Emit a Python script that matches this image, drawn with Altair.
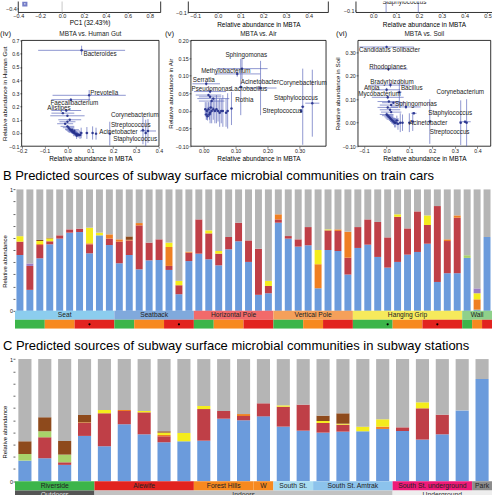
import altair as alt
import pandas as pd

FONT = "Liberation Sans"

# ---------------- Panel B: predicted sources on train cars (48 samples) ----------------
B_SKIN = [0.460, 0.173, 0.433, 0.548, 0.595, 0.644, 0.649, 0.474, 0.622, 0.542,
          0.392, 0.460, 0.342, 0.416, 0.419, 0.337, 0.137, 0.410,
          0.471, 0.425, 0.375, 0.507, 0.573, 0.403, 0.132, 0.145,
          0.726, 0.595, 0.529, 0.540, 0.186, 0.501, 0.493, 0.299,
          0.518, 0.545, 0.444, 0.356, 0.403, 0.463, 0.485, 0.553, 0.238, 0.310, 0.310,
          0.436, 0.010, 0.608]
B_ORAL = [0.110, 0.197, 0.109, 0.025, 0.027, 0.027, 0.028, 0.074, 0.000, 0.053,
          0.178, 0.120, 0.362, 0.146, 0.170, 0.033, 0.074, 0.069,
          0.282, 0.213, 0.096, 0.101, 0.153, 0.177, 0.380, 0.060,
          0.027, 0.021, 0.060, 0.150, 0.000, 0.162, 0.165, 0.139,
          0.172, 0.208, 0.288, 0.249, 0.372, 0.216, 0.334, 0.154, 0.625, 0.265, 0.457,
          0.000, 0.000, 0.000]
B_GUT = [0, 0, 0.008, 0, 0, 0, 0, 0.008, 0, 0.035,
         0.019, 0.005, 0.019, 0, 0, 0.156, 0, 0.009,
         0, 0, 0, 0, 0, 0, 0, 0,
         0.042, 0, 0, 0, 0.198, 0, 0.013, 0.214,
         0, 0, 0, 0, 0, 0, 0, 0, 0, 0.014, 0.019,
         0, 0.085, 0]
B_AIR = [0.045, 0, 0.025, 0.024, 0, 0, 0, 0.129, 0.022, 0,
         0, 0, 0, 0, 0, 0.036, 0.036, 0,
         0, 0.025, 0.022, 0, 0, 0, 0, 0.042,
         0, 0, 0, 0, 0.117, 0.008, 0, 0,
         0, 0, 0, 0, 0.020, 0, 0, 0.079, 0, 0, 0,
         0, 0.050, 0]
B_PLANT = [0, 0, 0, 0, 0, 0, 0, 0, 0, 0,
           0, 0, 0, 0, 0, 0, 0, 0,
           0, 0, 0, 0, 0, 0, 0, 0,
           0, 0, 0, 0, 0, 0, 0, 0,
           0, 0, 0, 0, 0, 0, 0, 0, 0, 0, 0,
           0.022, 0, 0]
B_SOIL = [0, 0, 0.009, 0.006, 0, 0, 0, 0, 0, 0,
          0, 0.028, 0, 0, 0, 0, 0, 0,
          0, 0, 0, 0, 0, 0, 0, 0,
          0, 0, 0, 0, 0, 0, 0, 0,
          0, 0, 0, 0, 0, 0, 0, 0, 0, 0, 0,
          0, 0, 0]
B_VAG = [0, 0.020, 0, 0, 0, 0, 0, 0, 0, 0,
         0, 0, 0, 0, 0, 0, 0, 0,
         0, 0, 0, 0, 0, 0, 0, 0,
         0, 0, 0, 0, 0, 0, 0, 0,
         0, 0, 0, 0, 0, 0, 0, 0, 0, 0, 0,
         0, 0.040, 0]

B_SURF = ["Seat", "Seatback", "Horizontal Pole", "Vertical Pole", "Hanging Grip", "Wall"]
B_SURF_START = [0, 10, 18, 26, 34, 45]
B_SURF_END = [9, 17, 25, 33, 44, 47]
B_LINE = ["Green", "Orange", "Red", "Green", "Orange", "Red", "Green", "Orange", "Red",
          "Green", "Orange", "Red", "Green", "Orange", "Red", "Green", "Orange", "Red"]
B_LINE_START = [0, 3, 6, 10, 12, 15, 18, 20, 23, 26, 29, 31, 34, 38, 41, 45, 46, 47]
B_LINE_END = [2, 5, 9, 11, 14, 17, 19, 22, 25, 28, 30, 33, 37, 40, 44, 45, 46, 47]
B_MARKED = [7, 16, 37, 42]

# ---------------- Panel C: predicted sources in stations (24 samples) ----------------
C_SKIN = [0.169, 0.188, 0.134, 0.371, 0.286, 0.466, 0.384, 0.319, 0.327, 0.332, 0.512, 0.499,
          0.531, 0.447, 0.414, 0.398, 0.406, 0.409, 0.428, 0.411, 0.341, 0.384, 0.580, 0.837]
C_ORAL = [0, 0.172, 0.021, 0.106, 0.270, 0.109, 0.180, 0.049, 0, 0.259, 0.063, 0.035,
          0.107, 0.163, 0.213, 0.079, 0.057, 0, 0, 0.030, 0.256, 0.161, 0, 0]
C_GUT = [0, 0, 0, 0.005, 0, 0.008, 0, 0.011, 0, 0, 0, 0.016,
         0, 0, 0, 0, 0, 0, 0.019, 0, 0, 0, 0, 0]
C_AIR = [0, 0, 0, 0, 0.027, 0, 0.011, 0.019, 0.068, 0.025, 0, 0,
         0, 0.011, 0, 0.016, 0.008, 0.038, 0.060, 0, 0.049, 0, 0, 0]
C_PLANT = [0.054, 0.050, 0.063, 0, 0, 0, 0, 0, 0, 0, 0, 0,
           0, 0, 0, 0, 0, 0, 0, 0, 0, 0, 0, 0]
C_SOIL = [0.104, 0.113, 0.112, 0.060, 0, 0, 0, 0.011, 0, 0, 0, 0,
          0, 0, 0, 0.044, 0.085, 0, 0, 0, 0, 0, 0, 0]
C_VAG = [0, 0, 0, 0, 0, 0, 0, 0, 0, 0, 0, 0,
         0, 0, 0, 0, 0, 0, 0, 0, 0, 0, 0, 0]

C_STATION = ["Riverside", "Alewife", "Forest Hills", "W", "South St.", "South St. Amtrak",
             "South St. underground", "Park"]
C_STATION_START = [0, 4, 9, 12, 13, 15, 19, 23]
C_STATION_END = [3, 8, 11, 12, 14, 18, 22, 23]
C_ENV = ["Outdoors", "Indoors", "Underground"]
C_ENV_START = [0, 4, 19]
C_ENV_END = [3, 18, 23]
C_MARKED = [7, 8, 23]

# ---------------- Scatter panels (genus relative abundance) ----------------
GUT_NAMES = ["Bacteroides", "Prevotella", "Faecalibacterium", "Alistipes", "Corynebacterium",
             "Streptococcus", "Acinetobacter", "Staphylococcus"]
GUT_X = [0.062, 0.095, 0.015, -0.005, 0.330, 0.185, 0.352, 0.342]
GUT_Y = [0.625, 0.285, 0.252, 0.170, 0.020, -0.005, 0.015, 0.000]
GUT_XERR = [0.190, 0.160, 0.085, 0.065, 0.008, 0.004, 0.035, 0.005]
GUT_YERR = [0.035, 0.040, 0.010, 0.010, 0.105, 0.090, 0.090, 0.100]
GUT_LX = [0.070, 0.100, -0.074, -0.088, 0.190, 0.190, 0.139, 0.200]
GUT_LY = [0.598, 0.305, 0.226, 0.188, 0.135, 0.060, 0.010, -0.044]
GUT_CX = [-0.02, 0.0, 0.01, 0.0, -0.01, 0.0, 0.005, 0.01, 0.015, 0.02, 0.025, 0.03,
          0.035, 0.04, 0.045, 0.05, 0.02, 0.03, 0.06, 0.085, 0.11, 0.125, 0.04, 0.055]
GUT_CY = [0.15, 0.13, 0.10, 0.085, 0.07, 0.05, 0.04, 0.03, 0.02, 0.012, 0.005, 0.0,
          -0.005, -0.01, -0.012, -0.015, 0.025, 0.015, 0.0, 0.0, 0.0, -0.005, -0.02, -0.015]
GUT_CXE = [0.05, 0.075, 0.05, 0.035, 0.035, 0.03, 0.025, 0.02, 0.02, 0.02, 0.02, 0.015,
           0.015, 0.015, 0.01, 0.01, 0.03, 0.025, 0.008, 0.006, 0.005, 0.005, 0.015, 0.01]
GUT_CYE = [0.005, 0.005, 0.005, 0.005, 0.005, 0.008, 0.008, 0.01, 0.01, 0.01, 0.012, 0.015,
           0.015, 0.02, 0.02, 0.02, 0.01, 0.01, 0.04, 0.045, 0.05, 0.045, 0.025, 0.03]

AIR_NAMES = ["Sphingomonas", "Methylobacterium", "Acinetobacter", "Corynebacterium",
             "Staphylococcus", "Streptococcus", "Serratia", "Pseudomonas", "Lactobacillus", "Rothia"]
AIR_X = [0.120, 0.105, 0.178, 0.310, 0.340, 0.305, 0.008, 0.020, 0.116, 0.087]
AIR_Y = [0.120, 0.105, 0.065, 0.012, 0.022, 0.000, 0.077, 0.055, 0.068, 0.007]
AIR_XERR = [0.080, 0.072, 0.050, 0.005, 0.022, 0.003, 0.043, 0.050, 0.005, 0.003]
AIR_YERR = [0.030, 0.008, 0.077, 0.108, 0.095, 0.004, 0.005, 0.005, 0.080, 0.047]
AIR_LX = [0.068, -0.008, 0.116, 0.236, 0.220, 0.184, -0.034, -0.038, 0.085, 0.099]
AIR_LY = [0.158, 0.113, 0.082, 0.080, 0.037, -0.001, 0.087, 0.063, 0.063, 0.030]
AIR_CX = [0.015, 0.02, 0.03, 0.025, 0.005, 0.01, 0.015, 0.02, 0.025, 0.03, 0.035,
          0.04, 0.045, 0.05, 0.055, 0.06, 0.07, 0.075, 0.008, 0.012, 0.018, 0.022]
AIR_CY = [0.045, 0.04, 0.035, 0.028, 0.005, 0.0, 0.005, -0.005, 0.0, 0.005, 0.0,
          0.005, 0.0, -0.005, 0.0, 0.0, -0.005, 0.0, -0.01, -0.015, -0.01, 0.01]
AIR_CXE = [0.04, 0.035, 0.05, 0.04, 0.004, 0.004, 0.004, 0.004, 0.004, 0.004, 0.004,
           0.004, 0.004, 0.004, 0.004, 0.004, 0.004, 0.004, 0.006, 0.006, 0.006, 0.01]
AIR_CYE = [0.003, 0.003, 0.003, 0.003, 0.02, 0.025, 0.02, 0.03, 0.035, 0.03, 0.035,
           0.04, 0.03, 0.04, 0.035, 0.045, 0.04, 0.05, 0.015, 0.012, 0.015, 0.02]

SOIL_NAMES = ["Candidatus Solibacter", "Rhodoplanes", "Bradyrhizobium", "Afipia", "Bacillus",
              "Mycobacterium", "Corynebacterium", "Sphingomonas", "Staphylococcus",
              "Acinetobacter", "Streptococcus"]
SOIL_X = [0.000, 0.008, 0.017, 0.000, 0.056, 0.005, 0.326, 0.085, 0.352, 0.345, 0.190]
SOIL_Y = [0.322, 0.228, 0.160, 0.140, 0.130, 0.108, 0.000, 0.067, 0.000, 0.004, 0.005]
SOIL_XERR = [0.120, 0.084, 0.086, 0.060, 0.010, 0.070, 0.005, 0.065, 0.006, 0.025, 0.004]
SOIL_YERR = [0.005, 0.005, 0.010, 0.008, 0.055, 0.008, 0.095, 0.008, 0.100, 0.005, 0.095]
SOIL_LX = [-0.122, -0.076, -0.072, -0.100, 0.063, -0.125, 0.219, 0.037, 0.183, 0.099, 0.190]
SOIL_LY = [0.308, 0.238, 0.174, 0.149, 0.149, 0.120, 0.130, 0.081, 0.043, -0.003, -0.040]
SOIL_CX = [0.01, 0.03, 0.02, 0.005, 0.015, 0.02, 0.0, 0.005, 0.01, 0.015, 0.02,
           0.025, 0.03, 0.035, 0.04, 0.05, 0.06, 0.07, 0.10, 0.115, 0.12, 0.045]
SOIL_CY = [0.09, 0.085, 0.075, 0.065, 0.055, 0.045, 0.035, 0.03, 0.025, 0.02, 0.015,
           0.01, 0.005, 0.0, 0.0, -0.005, 0.0, 0.0, 0.0, 0.005, 0.04, 0.01]
SOIL_CXE = [0.05, 0.05, 0.05, 0.045, 0.045, 0.045, 0.03, 0.025, 0.02, 0.02, 0.02,
            0.015, 0.015, 0.015, 0.01, 0.01, 0.005, 0.005, 0.005, 0.005, 0.012, 0.01]
SOIL_CYE = [0.004, 0.004, 0.004, 0.004, 0.004, 0.004, 0.008, 0.01, 0.01, 0.01, 0.012,
            0.015, 0.015, 0.02, 0.02, 0.025, 0.04, 0.035, 0.04, 0.04, 0.005, 0.02]

# partially visible panels above (bottom edges only)
PC_X = [-0.34]
PC_Y = [-0.362]
TOP_GENUS = ["Staphylococcus"]
TOP_GENUS_X = [0.040]
TOP_GENUS_Y = [-0.078]
TOP_RULE_X = [0.056, 0.197]

# ---------------- styles ----------------
SRC_ORDER = ["Skin", "Oral", "Gut", "Air", "Plant", "Soil", "Vaginal", "Unknown"]
SRC_COLOR = {"Skin": "#6b9bdc", "Oral": "#bf3f47", "Gut": "#ef7f22", "Air": "#f4ec1c",
             "Plant": "#a8d26a", "Soil": "#8e4a1c", "Vaginal": "#9a7dc4", "Unknown": "#b5b5b5"}
SURF_COLOR = {"Seat": "#8ccdee", "Seatback": "#80a9dc", "Horizontal Pole": "#f26a6a",
              "Vertical Pole": "#f5a05a", "Hanging Grip": "#f6ea5c", "Wall": "#8fd08a"}
LINE_COLOR = {"Green": "#3cb54a", "Orange": "#f7891f", "Red": "#e2231f"}
STATION_COLOR = {"Riverside": "#3cb54a", "Alewife": "#e2231f", "Forest Hills": "#f7891f",
                 "W": "#f7891f", "South St.": "#a9dcf1", "South St. Amtrak": "#8cc3ec",
                 "South St. underground": "#ee1a78", "Park": "#8c8c8c"}
ENV_COLOR = {"Outdoors": "#555555", "Indoors": "#c2c2c2", "Underground": "#eeeeee"}
ENV_TEXT = {"Outdoors": "#dddddd", "Indoors": "#333333", "Underground": "#333333"}
ERR_COLOR = "#5460b8"


def stack_table(series, n, half):
    rows = []
    for i in range(n):
        base = 0.0
        for s in SRC_ORDER:
            v = max(0.0, 1.0 - base) if s == "Unknown" else series[s][i]
            if v > 0:
                rows.append({"i": i, "src": s, "y0": base, "y1": base + v,
                             "xa": i - half, "xb": i + half, "fill": SRC_COLOR[s]})
                base += v
    return pd.DataFrame(rows)


def strip_table(names, starts, ends, colors, lo, hi, textcolors=None):
    return pd.DataFrame({
        "label": names,
        "xa": [s - 0.5 for s in starts],
        "xb": [e + 0.5 for e in ends],
        "xm": [(s + e) / 2 for s, e in zip(starts, ends)],
        "y0": [lo] * len(names), "y1": [hi] * len(names), "ym": [(lo + hi) / 2] * len(names),
        "fill": [colors[nm] for nm in names],
        "tc": [(textcolors or {}).get(nm, "#222222") for nm in names],
    })


YTICKS = [round(k * 0.1, 1) for k in range(11)]


def bar_panel(series, n, half, strips, labelled, marked, mark_y, ydom, width, height,
              title, title_dx, title_offset, ytitle_y, strip_font):
    xs = alt.Scale(domain=[-0.5, n - 0.5], nice=False, zero=False)
    ys = alt.Scale(domain=ydom, nice=False, zero=False)
    yax = alt.Axis(values=YTICKS, labelExpr="datum.value == 0 ? '0' : (datum.value == 1 ? '1' : '')",
                   tickSize=2, labelPadding=0.5, labelFontSize=5.5, domain=False, grid=False,
                   title="Relative abundance", titleFontSize=6, titleFontWeight="normal",
                   titlePadding=1.5, titleY=ytitle_y, labelFlush=False, labelOverlap=False,
                   tickColor="#666666", labelColor="#222222")
    df = stack_table(series, n, half)
    layers = [alt.Chart(df).mark_rect().encode(
        x=alt.X("xa:Q", scale=xs, axis=None), x2="xb:Q",
        y=alt.Y("y0:Q", scale=ys, axis=yax), y2="y1:Q",
        color=alt.Color("fill:N", scale=None))]
    for st, show in zip(strips, labelled):
        layers.append(alt.Chart(st).mark_rect(clip=True).encode(
            x=alt.X("xa:Q", scale=xs, axis=None), x2="xb:Q",
            y=alt.Y("y0:Q", scale=ys, axis=yax), y2="y1:Q",
            color=alt.Color("fill:N", scale=None)))
        if show:
            layers.append(alt.Chart(st).mark_text(fontSize=strip_font, baseline="middle", clip=True).encode(
                x=alt.X("xm:Q", scale=xs, axis=None),
                y=alt.Y("ym:Q", scale=ys, axis=yax),
                text="label:N", color=alt.Color("tc:N", scale=None)))
    mk = pd.DataFrame({"i": marked, "y": [mark_y] * len(marked)})
    layers.append(alt.Chart(mk).mark_circle(size=5, color="black", opacity=1, clip=True).encode(
        x=alt.X("i:Q", scale=xs, axis=None), y=alt.Y("y:Q", scale=ys, axis=yax)))
    return alt.layer(*layers).properties(
        width=width, height=height,
        title=alt.TitleParams(title, anchor="start", fontSize=13, fontWeight="normal",
                              font=FONT, dx=title_dx, offset=title_offset, baseline="alphabetic",
                              color="black"))


def scatter_panel(names, x, y, xe, ye, lx, ly, cx, cy, cxe, cye, xdom, ydom, x0, x1,
                  xticks, yticks, xfmt, yfmt, ytitle, title, tag, tag_dx):
    xs = alt.Scale(domain=xdom, range=[x0, x1], nice=False, zero=False)
    ys = alt.Scale(domain=ydom, nice=False, zero=False)
    xax = alt.Axis(values=xticks, format=xfmt, tickSize=2, labelPadding=0.5, labelFontSize=5.3,
                   domain=False, grid=False, title="Relative abundance in MBTA", titleFontSize=6.5,
                   titleFontWeight="normal", titlePadding=1.5, labelFlush=False, labelOverlap=False,
                   labelColor="#222222", orient="bottom")
    yax = alt.Axis(values=yticks, format=yfmt, tickSize=2, labelPadding=0.7, labelFontSize=5.3,
                   domain=False, grid=False, title=ytitle, titleFontSize=6.2,
                   titleFontWeight="normal", titlePadding=1.5, labelFlush=False,
                   labelOverlap=False, offset=-x0, labelColor="#222222", orient="left")
    frame = alt.Chart(pd.DataFrame({"x0": [xdom[0]], "x1": [xdom[1]], "y0": [ydom[0]], "y1": [ydom[1]]})
                      ).mark_rect(fill="transparent", stroke="black", strokeWidth=0.8).encode(
        x=alt.X("x0:Q", scale=xs, axis=xax), x2="x1:Q",
        y=alt.Y("y0:Q", scale=ys, axis=yax), y2="y1:Q")
    allx = list(cx) + list(x)
    ally = list(cy) + list(y)
    allxe = list(cxe) + list(xe)
    allye = list(cye) + list(ye)
    pts = pd.DataFrame({"x": allx, "y": ally,
                        "xlo": [a - b for a, b in zip(allx, allxe)],
                        "xhi": [a + b for a, b in zip(allx, allxe)],
                        "ylo": [a - b for a, b in zip(ally, allye)],
                        "yhi": [a + b for a, b in zip(ally, allye)]})
    hb = alt.Chart(pts).mark_rule(color=ERR_COLOR, strokeWidth=1.0, opacity=0.65).encode(
        x=alt.X("xlo:Q", scale=xs, axis=xax), x2="xhi:Q", y=alt.Y("y:Q", scale=ys, axis=yax))
    vb = alt.Chart(pts).mark_rule(color=ERR_COLOR, strokeWidth=1.0, opacity=0.65).encode(
        x=alt.X("x:Q", scale=xs, axis=xax), y=alt.Y("ylo:Q", scale=ys, axis=yax), y2="yhi:Q")
    dots = alt.Chart(pts).mark_circle(size=6, color="#26318c", opacity=0.9).encode(
        x=alt.X("x:Q", scale=xs, axis=xax), y=alt.Y("y:Q", scale=ys, axis=yax))
    lab = alt.Chart(pd.DataFrame({"name": names, "lx": lx, "ly": ly})).mark_text(
        align="left", baseline="middle", fontSize=6.3, color="#222222").encode(
        x=alt.X("lx:Q", scale=xs, axis=xax), y=alt.Y("ly:Q", scale=ys, axis=yax), text="name:N")
    ttl = alt.Chart(pd.DataFrame({"t": [title]})).mark_text(
        fontSize=6.5, baseline="alphabetic", align="center", color="#222222").encode(
        x=alt.value((x0 + x1) / 2), y=alt.value(-4), text="t:N")
    tg = alt.Chart(pd.DataFrame({"t": [tag]})).mark_text(
        fontSize=8, baseline="alphabetic", align="left", color="#222222").encode(
        x=alt.value(x0 + tag_dx), y=alt.value(-4), text="t:N")
    return alt.layer(frame, hb, vb, dots, lab, ttl, tg)


def partial_panel(xdom, ydom, x0, x1, xticks, ytick, xtitle, title_pad, right_edge=True, extras=()):
    xs = alt.Scale(domain=xdom, range=[x0, x1], nice=False, zero=False)
    ys = alt.Scale(domain=ydom, nice=False, zero=False)
    xax = alt.Axis(values=xticks, format=".1f", tickSize=1, labelPadding=0.5, labelFontSize=5.5,
                   domain=False, grid=False, title=xtitle, titleFontSize=6.5,
                   titleFontWeight="normal", titlePadding=title_pad, labelFlush=False,
                   labelOverlap=False, labelColor="#222222", orient="bottom")
    yax = alt.Axis(values=[ytick], format=".1f", tickSize=1.5, labelPadding=0.5, labelFontSize=5.5,
                   domain=False, grid=False, title="", labelFlush=False, offset=-x0,
                   labelColor="#222222", orient="left")
    seg = {"xa": [xdom[0], xdom[0]], "xb": [xdom[0], xdom[1]],
           "ya": [ydom[0], ydom[0]], "yb": [ydom[1], ydom[0]]}
    if right_edge:
        seg["xa"].append(xdom[1]); seg["xb"].append(xdom[1])
        seg["ya"].append(ydom[0]); seg["yb"].append(ydom[1])
    frame = alt.Chart(pd.DataFrame(seg)).mark_rule(color="black", strokeWidth=0.8).encode(
        x=alt.X("xa:Q", scale=xs, axis=xax), x2="xb:Q",
        y=alt.Y("ya:Q", scale=ys, axis=yax), y2="yb:Q")
    layers = [frame]
    for kind, df in extras:
        if kind == "vline":
            layers.append(alt.Chart(df).mark_rule(color="#bbbbbb", strokeWidth=0.8).encode(
                x=alt.X("x:Q", scale=xs, axis=xax)))
        elif kind == "err":
            layers.append(alt.Chart(df).mark_rule(color=ERR_COLOR, strokeWidth=1.0, opacity=0.65).encode(
                x=alt.X("x:Q", scale=xs, axis=xax)))
        elif kind == "pt":
            layers.append(alt.Chart(df).mark_square(size=10, color="#3a46b0", filled=False, clip=True).encode(
                x=alt.X("x:Q", scale=xs, axis=xax), y=alt.Y("y:Q", scale=ys, axis=yax)))
        elif kind == "text":
            layers.append(alt.Chart(df).mark_text(align="left", baseline="alphabetic", fontSize=6.3,
                                                  color="#222222", clip=True).encode(
                x=alt.X("x:Q", scale=xs, axis=xax), y=alt.Y("y:Q", scale=ys, axis=yax), text="t:N"))
    return alt.layer(*layers)


def row(panels, width, height):
    return alt.layer(*panels).resolve_scale(x="independent", y="independent").resolve_axis(
        x="independent", y="independent").properties(width=width, height=height)


# ---------------- build ----------------
row1 = row([
    partial_panel([-0.4, 0.9], [-0.428, -0.343], 3.3, 146, [-0.4, -0.2, 0.0, 0.2, 0.4, 0.6, 0.8],
                  -0.4, "PC1 (32.43%)", 0,
                  extras=[("vline", pd.DataFrame({"x": [0.0]})),
                          ("pt", pd.DataFrame({"x": PC_X, "y": PC_Y}))]),
    partial_panel([-0.13, 0.486], [-0.1, -0.064], 173.7, 314, [-0.1, 0.0, 0.1, 0.2, 0.3, 0.4],
                  -0.1, "Relative abundance in MBTA", 2),
    partial_panel([-0.076, 0.52], [-0.1056, -0.0693], 341.7, 478, [0.0, 0.1, 0.2, 0.3, 0.4, 0.5],
                  -0.1, "Relative abundance in MBTA", 2, right_edge=False,
                  extras=[("err", pd.DataFrame({"x": TOP_RULE_X})),
                          ("text", pd.DataFrame({"x": TOP_GENUS_X, "y": TOP_GENUS_Y, "t": TOP_GENUS}))]),
], 478, 11)

row2 = row([
    scatter_panel(GUT_NAMES, GUT_X, GUT_Y, GUT_XERR, GUT_YERR, GUT_LX, GUT_LY,
                  GUT_CX, GUT_CY, GUT_CXE, GUT_CYE, [-0.2, 0.4], [-0.1, 0.7], 6.7, 144.3,
                  [-0.2, -0.1, 0.0, 0.1, 0.2, 0.3, 0.4], [-0.1, 0.0, 0.1, 0.2, 0.3, 0.4, 0.5, 0.6, 0.7],
                  ".1f", ".1f", "Relative abundance in Human Gut", "MBTA vs. Human Gut", "(iv)", -21.7),
    scatter_panel(AIR_NAMES, AIR_X, AIR_Y, AIR_XERR, AIR_YERR, AIR_LX, AIR_LY,
                  AIR_CX, AIR_CY, AIR_CXE, AIR_CYE, [-0.04, 0.383], [-0.1, 0.2], 176.3, 311.7,
                  [0.0, 0.1, 0.2, 0.3], [-0.1, -0.05, 0.0, 0.05, 0.1, 0.15, 0.2],
                  ".2f", ".2f", "Relative abundance in Air", "MBTA vs. Air", "(v)", -26),
    scatter_panel(SOIL_NAMES, SOIL_X, SOIL_Y, SOIL_XERR, SOIL_YERR, SOIL_LX, SOIL_LY,
                  SOIL_CX, SOIL_CY, SOIL_CXE, SOIL_CYE, [-0.126, 0.458], [-0.1, 0.35], 343.7, 476.7,
                  [-0.1, 0.0, 0.1, 0.2, 0.3, 0.4], [-0.1, 0.0, 0.1, 0.2, 0.3],
                  ".1f", ".2f", "Relative abundance in Soil", "MBTA vs. Soil", "(vi)", -22),
], 476.7, 106)

B_SERIES = {"Skin": B_SKIN, "Oral": B_ORAL, "Gut": B_GUT, "Air": B_AIR, "Plant": B_PLANT,
            "Soil": B_SOIL, "Vaginal": B_VAG}
C_SERIES = {"Skin": C_SKIN, "Oral": C_ORAL, "Gut": C_GUT, "Air": C_AIR, "Plant": C_PLANT,
            "Soil": C_SOIL, "Vaginal": C_VAG}

hB = 0.074
chartB = bar_panel(
    B_SERIES, 48, 0.35,
    [strip_table(B_SURF, B_SURF_START, B_SURF_END, SURF_COLOR, -hB, 0.0),
     strip_table(B_LINE, B_LINE_START, B_LINE_END, LINE_COLOR, -2 * hB, -hB)],
    [True, False], B_MARKED, -1.5 * hB, [-2 * hB, 1.1257], 478, 155,
    "B  Predicted sources of subway surface microbial communities on train cars", 1, -19, 87, 6.7)

hC = 0.076
chartC = bar_panel(
    C_SERIES, 24, 0.33,
    [strip_table(C_STATION, C_STATION_START, C_STATION_END, STATION_COLOR, -hC, 0.0),
     strip_table(C_ENV, C_ENV_START, C_ENV_END, ENV_COLOR, -2 * hC, -hC, ENV_TEXT)],
    [True, True], C_MARKED, -1.6 * hC, [-0.1168, 1.0188], 478, 139,
    "C  Predicted sources of subway surface microbial communities in subway stations", 1, -6, 75, 6.8)

chart = alt.vconcat(row1, row2, chartB, chartC, spacing=28, bounds="flush").properties(
    padding={"left": 0, "right": 0, "top": 0, "bottom": 0}
).configure_view(stroke=None).configure_axis(labelFont=FONT, titleFont=FONT).configure_text(
    font=FONT).configure_title(font=FONT)

chart.save("out.html", embed_options={"renderer": "svg", "actions": False})
